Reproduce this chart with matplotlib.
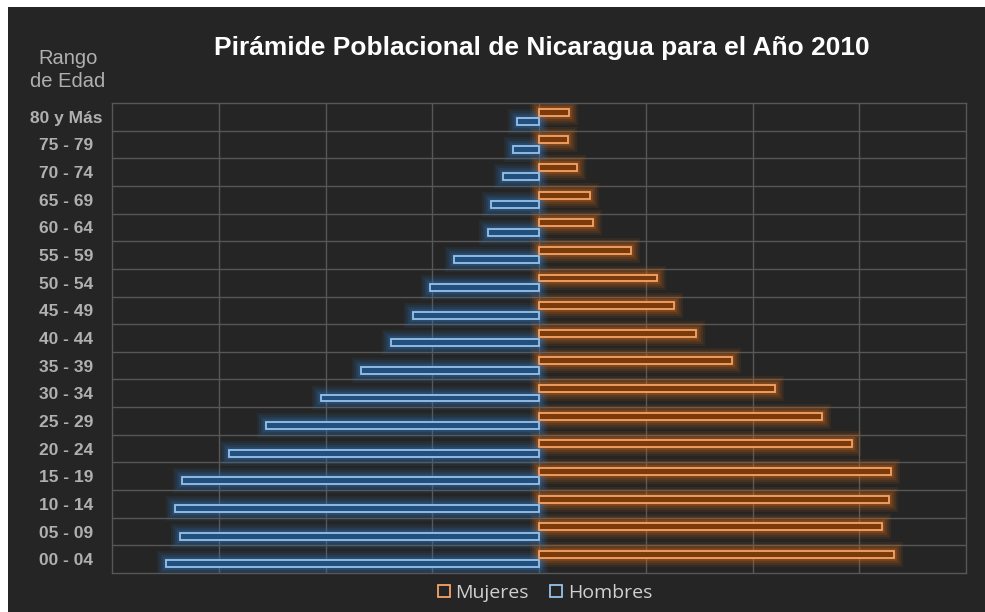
import matplotlib
matplotlib.use("Agg")
import matplotlib.pyplot as plt
from matplotlib.patches import Rectangle, Patch
import numpy as np

# Age groups, bottom to top
age_groups = ["00 - 04", "05 - 09", "10 - 14", "15 - 19", "20 - 24", "25 - 29",
              "30 - 34", "35 - 39", "40 - 44", "45 - 49", "50 - 54", "55 - 59",
              "60 - 64", "65 - 69", "70 - 74", "75 - 79", "80 y Más"]
# population in thousands
mujeres = [333, 321, 328, 330, 293, 265, 221, 181, 147, 126, 111, 86, 51, 48, 36, 27, 28]
hombres = [349, 336, 341, 334, 290, 256, 204, 167, 139, 118, 102, 80, 48, 45, 34, 24, 21]

BG = "#252525"
GRID = "#575757"
TXT = "#b0b0b0"

fig = plt.figure(figsize=(9.85, 6.12), dpi=100, facecolor="white")
fig.patches.append(Rectangle((8 / 985, 0), 1, 1 - 7 / 612, transform=fig.transFigure,
                             facecolor=BG, edgecolor="none", zorder=-10))

ax = fig.add_axes([112 / 985, 39 / 612, 854 / 985, 470 / 612])
ax.set_facecolor(BG)

y = np.arange(len(age_groups))
h = 0.25
off = 0.17

series = [
    (np.array(mujeres), 1, "#f5a468", "#7a3a0a", "#d96a14", "Mujeres"),
    (-np.array(hombres), -1, "#98c2ea", "#21507e", "#2f74b8", "Hombres"),
]
for vals, side, edge, fill, glow, name in series:
    yy = y + off if side > 0 else y - off
    for lw, a in [(13, 0.09), (10, 0.12), (7, 0.16), (4, 0.25)]:
        ax.barh(yy, vals, height=h, color=glow, edgecolor=glow, linewidth=lw,
                alpha=a, zorder=2)
    ax.barh(yy, vals, height=h, color=fill, edgecolor=edge, linewidth=1.3,
            zorder=3, label=name)

ax.set_xlim(-400, 400)
ax.set_ylim(-0.5, len(age_groups) - 0.5)
for xv in np.arange(-300, 400, 100):
    ax.axvline(xv, color=GRID, lw=1, zorder=1)
for yv in np.arange(0.5, len(age_groups) - 0.5, 1):
    ax.axhline(yv, color=GRID, lw=1, zorder=1)
for s in ax.spines.values():
    s.set_color(GRID)
    s.set_linewidth(1)

ax.set_xticks([])
ax.set_yticks(y)
ax.set_yticklabels(age_groups, fontsize=12.5, fontweight="bold", color=TXT,
                   family="Liberation Sans", ha="center")
ax.tick_params(axis="y", length=0, pad=33)

fig.text(542 / 985, 1 - 48 / 612, "Pirámide Poblacional de Nicaragua para el Año 2010",
         ha="center", va="center", fontsize=19, fontweight="bold", color="white",
         family="Liberation Sans")
fig.text(68 / 985, 1 - 64 / 612, "Rango", ha="center", va="baseline",
         fontsize=14.5, color=TXT, family="Liberation Sans")
fig.text(68 / 985, 1 - 87 / 612, "de Edad", ha="center", va="baseline",
         fontsize=14.5, color=TXT, family="Liberation Sans")

handles = [Patch(facecolor=BG, edgecolor="#f5a468", lw=1.3, label="Mujeres"),
           Patch(facecolor=BG, edgecolor="#98c2ea", lw=1.3, label="Hombres")]
fig.legend(handles=handles, loc="center", bbox_to_anchor=(545 / 985, 1 - 593 / 612),
           ncol=2, frameon=False, labelcolor="#d0d0d0",
           handlelength=0.6, handleheight=0.6, handletextpad=0.3, columnspacing=1.1,
           prop={"family": "Open Sans", "size": 14})

fig.savefig("out.png", dpi=100, facecolor="white")
